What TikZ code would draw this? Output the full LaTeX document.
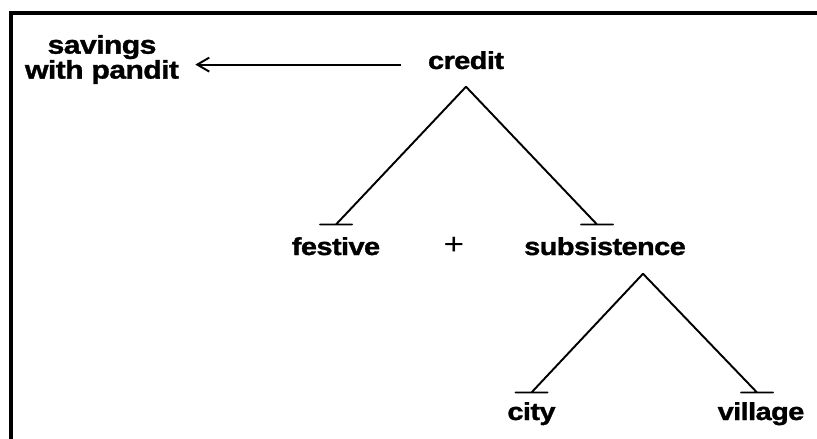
\documentclass[tikz,border=0pt]{standalone}
\usepackage{fontspec}
\setmainfont{Liberation Sans}[FakeStretch=1.18, BoldFeatures={FakeBold=1.3, LetterSpace=-2.5}]
\usetikzlibrary{arrows.meta}

\begin{document}
\begin{tikzpicture}[
  ramo/.style={draw=black, line width=1.1pt, line cap=round,
    to path={-- (\tikztotarget) +(-0.320,0) -- +(0.320,0)}},
  freccia/.style={draw=black, line width=1.1pt, -{Straight Barb[length=0.240cm, width=0.280cm]}},
  voce/.style={inner sep=0pt, font=\fontsize{14}{14.2}\selectfont\bfseries,
    text height=0.75em, text depth=0.25em, anchor=base},
  nota/.style={inner sep=0pt, font=\fontsize{14.6}{14.2}\selectfont\bfseries, align=center},
  segno/.style={inner sep=0pt, font=\fontsize{17}{17}\selectfont}
]

\useasboundingbox (0,0) rectangle (16.340,-8.780);

%--------------------------------------------------------------
% Cornice (solo lato superiore e sinistro)
%--------------------------------------------------------------
\draw[line width=2.3pt] (0.220,-8.900) -- (0.220,-0.260) -- (16.500,-0.260);

%--------------------------------------------------------------
% Voci
%--------------------------------------------------------------
\node[voce] (credit) at (9.320,-1.380) {credit};
\node[nota] (savings) at (2.040,-1.190) {savings\\with pandit};
\node[voce] (festive) at (6.720,-5.100) {festive};
\node[segno] (plus) at (9.080,-4.920) {+};
\node[voce] (subsistence) at (12.100,-5.100) {subsistence};
\node[voce] (city) at (10.630,-8.400) {city};
\node[voce] (village) at (15.220,-8.400) {village};

%--------------------------------------------------------------
% Freccia verso il risparmio
%--------------------------------------------------------------
\draw[freccia, shorten <=0.540cm, shorten >=0.320cm] (credit.west) -- (savings.east |- credit.west);

%--------------------------------------------------------------
% Rami
%--------------------------------------------------------------
\draw[ramo] ([yshift=-0.260cm]credit.south) to ([yshift=0.340cm]festive.north);
\draw[ramo] ([yshift=-0.260cm]credit.south) to ([xshift=-0.160cm, yshift=0.340cm]subsistence.north);
\draw[ramo] ([xshift=0.760cm, yshift=-0.280cm]subsistence.south) to ([yshift=0.280cm]city.north);
\draw[ramo] ([xshift=0.760cm, yshift=-0.280cm]subsistence.south) to ([xshift=-0.080cm, yshift=0.280cm]village.north);

\end{tikzpicture}
\end{document}
